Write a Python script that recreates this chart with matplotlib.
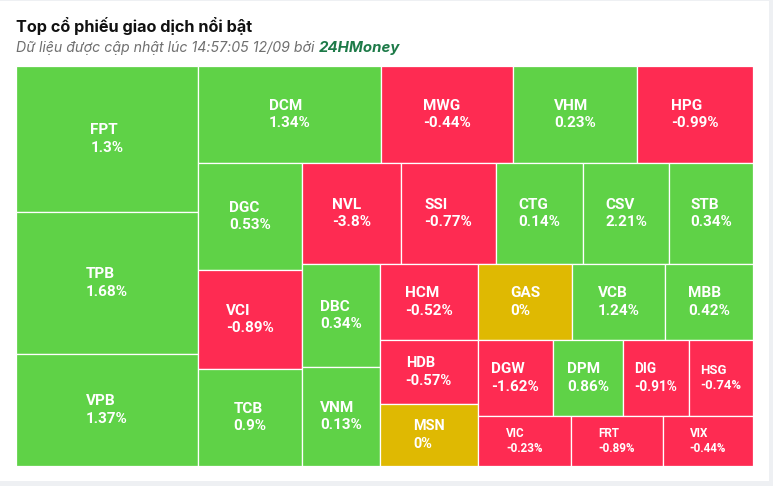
import matplotlib
matplotlib.use("Agg")
import matplotlib.pyplot as plt
from matplotlib.patches import Rectangle

# ticker, price change (%) and traded size (box area)
tickers = ["FPT", "TPB", "VPB", "DCM", "MWG", "VHM", "HPG", "DGC", "VCI", "TCB",
           "NVL", "SSI", "CTG", "CSV", "STB", "DBC", "VNM", "HCM", "GAS", "VCB",
           "MBB", "HDB", "MSN", "DGW", "DPM", "DIG", "HSG", "VIC", "FRT", "VIX"]
changes = [1.3, 1.68, 1.37, 1.34, -0.44, 0.23, -0.99, 0.53, -0.89, 0.9,
           -3.8, -0.77, 0.14, 2.21, 0.34, 0.34, 0.13, -0.52, 0, 1.24,
           0.42, -0.57, 0, -1.62, 0.86, -0.91, -0.74, -0.23, -0.89, -0.44]
sizes = [265.7, 258.4, 203.8, 177.5, 128.0, 120.3, 112.5, 111.3, 103.0, 100.9,
         100.0, 96.0, 87.9, 86.9, 84.8, 80.3, 77.2, 74.5, 72.2, 70.7,
         66.9, 62.7, 60.8, 57.0, 53.2, 50.2, 48.6, 46.5, 46.2, 45.0]

GREEN = "#5fd247"
RED = "#fe2b52"
YELLOW = "#dfb902"


def ratio(a, b):
    return max(a / b, b / a)


def squarify_alt(values, x, y, w, h):
    """greedy squarified layout, direction flips after every group"""
    total = sum(values)
    areas = [v * w * h / total for v in values]
    rects = []
    direction = 0 if w >= h else 1  # 0 = column on the left, 1 = row on top
    i = 0
    n = len(areas)
    while i < n:
        group = [areas[i]]
        j = i + 1
        while j < n:
            last = group[-1]
            tot = sum(group)
            tot2 = tot + areas[j]
            if direction == 0:
                ow, nw = tot / h, tot2 / h
                old_r = ratio(ow, last / ow)
                new_r = ratio(nw, last / nw)
            else:
                oh, nh = tot / w, tot2 / w
                old_r = ratio(last / oh, oh)
                new_r = ratio(last / nh, nh)
            if new_r > old_r:
                break
            group.append(areas[j])
            j += 1
        tot = sum(group)
        if direction == 0:
            gw = tot / h
            cy = y
            for a in group:
                rects.append((x, cy, gw, a / gw))
                cy += a / gw
            x += gw
            w -= gw
        else:
            gh = tot / w
            cx = x
            for a in group:
                rects.append((cx, y, a / gh, gh))
                cx += a / gh
            y += gh
            h -= gh
        i = j
        direction = 1 - direction
    return rects


W, H = 737, 400
fig = plt.figure(figsize=(7.73, 4.86), dpi=100, facecolor="#eef0f3")
fig.patches.append(Rectangle((0, 5 / 486), 769 / 773, 480 / 486, transform=fig.transFigure,
                             facecolor="white", edgecolor="none", zorder=-10))

fig.text(16 / 773, 1 - 32 / 486, "Top cổ phiếu giao dịch nổi bật", family="Inter",
         fontsize=11.7, fontweight="bold", color="#111111", va="baseline")
sub = fig.text(16 / 773, 1 - 52 / 486, "Dữ liệu được cập nhật lúc 14:57:05 12/09 bởi ",
               family="Inter", style="italic", fontsize=10.2, color="#6f6f6f", va="baseline")
r = fig.canvas.get_renderer()
bb = sub.get_window_extent(renderer=r)
fig.text(bb.x1 / fig.bbox.width, 1 - 52 / 486, "24HMoney", family="Inter", style="italic",
         fontweight="bold", fontsize=10.8, color="#1d7a48", va="baseline")

ax = fig.add_axes([16 / 773, 20 / 486, W / 773, H / 486])
ax.set_xlim(0, W)
ax.set_ylim(H, 0)
ax.axis("off")

rects = squarify_alt(sizes, 0, 0, W, H)
for (rx, ry, rw, rh), name, chg in zip(rects, tickers, changes):
    if chg > 0:
        col = GREEN
    elif chg < 0:
        col = RED
    else:
        col = YELLOW
    ax.add_patch(Rectangle((rx, ry), rw, rh, facecolor=col, edgecolor="white", lw=0.9))
    t = ax.text(rx + rw / 2, ry + rh / 2, f"{name}\n{chg:g}%", ha="center", va="center",
                multialignment="left", color="white", fontweight="bold", family="Roboto",
                fontsize=11, linespacing=1.28)
    # shrink labels in the small boxes
    tw = t.get_window_extent(renderer=r).width
    fs = min(11, 11 * 0.64 * rw / tw, rh / 6.0)
    t.set_fontsize(fs)

fig.savefig("out.png", dpi=100, facecolor=fig.get_facecolor())
